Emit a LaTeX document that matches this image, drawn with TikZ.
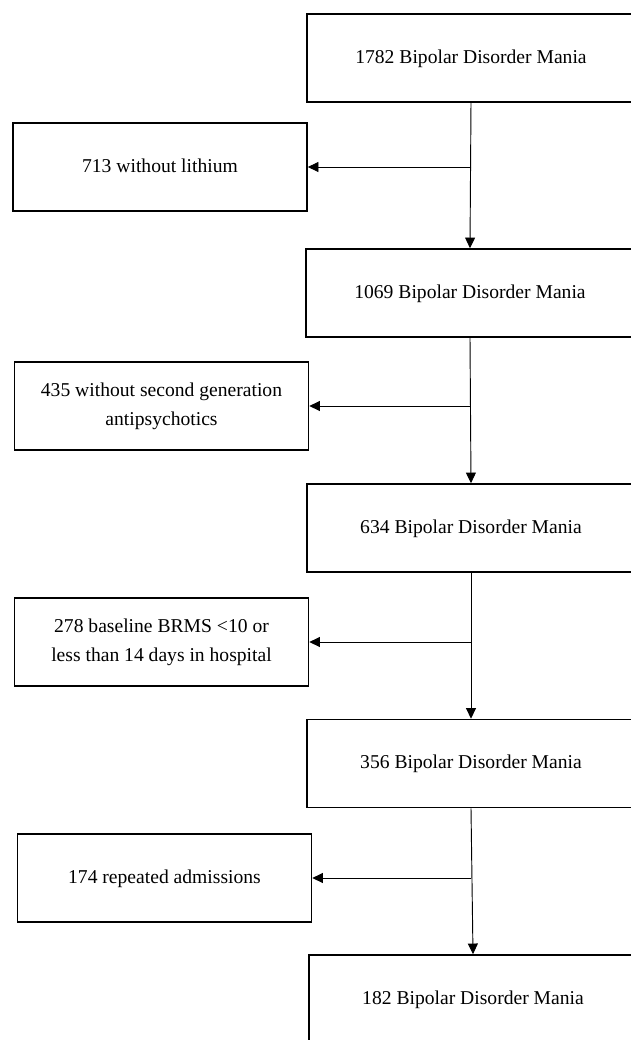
\documentclass[tikz,border=0pt]{standalone}
\usepackage{fontspec}
\setmainfont{Liberation Serif}
\usetikzlibrary{arrows.meta}
\begin{document}
\begin{tikzpicture}[x=0.75pt,y=-0.75pt,
  boxbase/.style={draw, line width=1.2pt, rectangle, minimum height=66pt, inner sep=0pt, font=\fontsize{14.7}{21.75}\selectfont, align=center},
  mainbox/.style={boxbase, minimum width=246pt, text height=0.8em, text depth=0pt},
  sidebox/.style={boxbase, minimum width=220.5pt},
  sideone/.style={sidebox, text height=0.8em, text depth=0pt},
  arr/.style={line width=0.7pt, -{Triangle[length=8pt,width=7.5pt]}}]
\fill[white] (0,0) rectangle (631,1040);
\clip (0,0) rectangle (631,1040);
\useasboundingbox (0,0) rectangle (631,1040);
\node[mainbox] (b1) at (471,58) {1782 Bipolar Disorder Mania};
\node[mainbox] (b2) at (470,293) {1069 Bipolar Disorder Mania};
\node[mainbox] (b3) at (471,528) {634 Bipolar Disorder Mania};
\node[mainbox] (b4) at (471,763.5) {356 Bipolar Disorder Mania};
\node[mainbox] (b5) at (473,999) {182 Bipolar Disorder Mania};
\node[sideone] (s1) at (160,167) {713 without lithium};
\node[sidebox] (s2) at (161.5,406) {435 without second generation\\antipsychotics};
\node[sidebox] (s3) at (161.5,642) {278 baseline BRMS <10 or\\less than 14 days in hospital};
\node[sideone] (s4) at (164.5,878) {174 repeated admissions};
\draw[arr] (b1.south) -- (b2.north);
\draw[arr] (b2.south) -- (b3.north);
\draw[arr] (b3.south) -- (b4.north);
\draw[arr] (b4.south) -- (b5.north);
\draw[arr] (b1.south |- s1.east) -- (s1.east);
\draw[arr] (b2.south |- s2.east) -- (s2.east);
\draw[arr] (b3.south |- s3.east) -- (s3.east);
\draw[arr] (b4.south |- s4.east) -- (s4.east);
\end{tikzpicture}
\end{document}
